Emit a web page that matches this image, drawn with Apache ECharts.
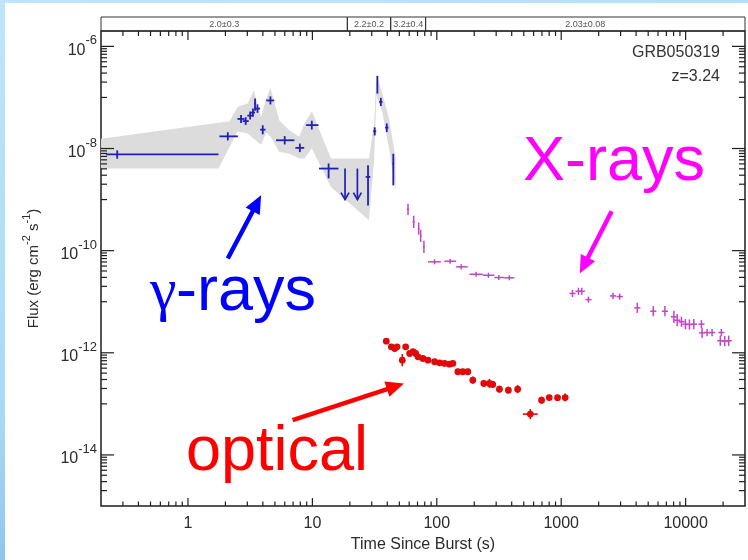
<!DOCTYPE html>
<html>
<head>
<meta charset="utf-8">
<script src="https://cdn.jsdelivr.net/npm/echarts@6/dist/echarts.min.js"></script>
<style>
  html, body { margin: 0; padding: 0; }
  body {
    width: 748px; height: 560px; overflow: hidden; position: relative;
    background: linear-gradient(165deg, #bfe5fb 0%, #a9d9f5 55%, #6aaedc 100%);
  }
  #sheet { position: absolute; left: 5px; top: 3px; width: 743px; height: 557px; background: #ffffff; }
  #chart { position: absolute; left: 0; top: 0; width: 748px; height: 560px; }
</style>
</head>
<body>
<div id="sheet"></div>
<div id="chart"></div>
<script>
// ---------------- axis ranges and tick labels ----------------
const T_MIN = 0.2, T_MAX = 3e4;
const F_MIN = 1e-15, F_MAX = 2e-6;
const xTickValues = [1, 10, 100, 1000, 10000];
const xTickLabels = ['1', '10', '100', '1000', '10000'];
const yTickValues = [1e-6, 1e-8, 1e-10, 1e-12, 1e-14];
const yTickExps   = ['-6', '-8', '-10', '-12', '-14'];

// ---------------- photon index strip ----------------
const stripEdges  = [0.2, 19.1, 42.6, 81.3, 3e4];
const stripLabels = ['2.0\u00b10.3', '2.2\u00b10.2', '3.2\u00b10.4', '2.03\u00b10.08'];

// ---------------- BAT (gamma-ray) light curve ----------------
const batT   = [0.27, 2.09, 2.67, 2.91, 3.16, 3.33, 3.46, 3.62, 3.99, 4.60, 5.99, 7.93, 9.89, 13.5, 28.0, 31.7, 33.3, 35.5, 39.6, 44.7];
const batTLo = [0.22, 1.79, 2.50, 2.75, 3.00, 3.20, 3.42, 3.45, 3.80, 4.26, 5.10, 7.30, 8.90, 11.3, 26.8, 30.8, 33.0, 34.4, 38.4, 44.0];
const batTHi = [1.76, 2.52, 2.85, 3.08, 3.33, 3.46, 3.50, 3.80, 4.20, 4.94, 7.17, 8.60, 11.2, 16.2, 29.2, 32.6, 33.6, 36.6, 40.8, 45.4];
const batF   = [7.7e-9, 1.73e-8, 3.79e-8, 3.44e-8, 4.41e-8, 5.05e-8, 7.57e-8, 6.04e-8, 2.34e-8, 8.73e-8, 1.45e-8, 1.03e-8, 2.87e-8, 4.05e-9, 2.78e-9, 2.17e-8, 1.78e-7, 8.17e-8, 2.56e-8, 5.06e-9];
const batFLo = [6.3e-9, 1.44e-8, 3.15e-8, 2.9e-8, 3.7e-8, 4.2e-8, 5.5e-8, 5.0e-8, 1.9e-8, 7.3e-8, 1.2e-8, 8.5e-9, 2.35e-8, 2.6e-9, 7.7e-10, 1.8e-8, 1.19e-7, 6.8e-8, 2.1e-8, 1.9e-9];
const batFHi = [9.2e-9, 2.08e-8, 4.55e-8, 4.1e-8, 5.3e-8, 6.1e-8, 9.5e-8, 7.3e-8, 2.85e-8, 1.05e-7, 1.75e-8, 1.25e-8, 3.5e-8, 5.1e-9, 4.7e-9, 2.6e-8, 2.64e-7, 9.8e-8, 3.1e-8, 7.9e-9];
// BAT upper limits (flux limit and arrow tip)
const batUlT   = [18.3, 23.0];
const batUlF   = [4.05e-9, 4.05e-9];
const batUlTip = [1.0e-9, 1.0e-9];

// BAT model envelope
const bandT  = [0.2, 1.76, 2.16, 2.51, 3.02, 3.38, 3.87, 4.25, 4.60, 5.43, 6.53, 7.85, 8.6, 9.9, 14.1, 28.5, 31.4, 32.7, 36.5, 41.3, 46.7];
const bandHi = [1.56e-8, 3.18e-8, 3.40e-8, 6.6e-8, 7.57e-8, 1.38e-7, 4.21e-8, 9.48e-8, 1.53e-7, 3.52e-8, 2.27e-8, 1.69e-8, 3.07e-8, 5.35e-8, 6.34e-9, 6.34e-9, 3.32e-8, 2.92e-7, 1.19e-7, 3.85e-8, 6.34e-9];
const bandLo = [4.05e-9, 4.05e-9, 1.07e-8, 2.17e-8, 1.96e-8, 1.56e-8, 1.19e-8, 2.05e-8, 1.71e-8, 8.57e-9, 7.94e-9, 6.34e-9, 6.34e-9, 9.95e-9, 1.77e-9, 3.94e-10, 6.34e-9, 1.10e-7, 5.2e-8, 9.95e-9, 1.44e-9];

// ---------------- XRT (X-ray) light curve ----------------
const xrtT   = [58.7, 65.2, 71.5, 74.2, 78.8, 96, 128, 157, 207, 260, 315, 383, 1232, 1376, 1463, 1655, 2610, 2949, 4087, 5492, 6814, 8043, 8551, 9255, 9963, 10725, 11633, 13385, 13557, 14870, 16310, 19360, 19000, 20610, 22190];
const xrtTLo = [57.5, 64.0, 70.5, 73.2, 77.5, 85, 115, 143, 183, 234, 290, 349, 1165, 1300, 1383, 1565, 2467, 2787, 3862, 5190, 6439, 7600, 8080, 8746, 9415, 10135, 10993, 12649, 12811, 14052, 15413, 18295, 17955, 19476, 20970];
const xrtTHi = [60.0, 66.5, 72.5, 75.2, 80.0, 108, 143, 177, 234, 290, 349, 420, 1305, 1458, 1550, 1754, 2766, 3126, 4332, 5821, 7223, 8525, 9064, 9810, 10560, 11368, 12331, 14188, 14370, 15762, 17289, 20522, 20140, 21847, 23521];
const xrtF   = [6.46e-10, 3.66e-10, 2.70e-10, 1.95e-10, 1.19e-10, 6.04e-11, 6.21e-11, 4.82e-11, 3.45e-11, 3.30e-11, 2.98e-11, 2.94e-11, 1.45e-11, 1.60e-11, 1.60e-11, 1.10e-11, 1.30e-11, 1.26e-11, 7.60e-12, 6.52e-12, 6.52e-12, 5.06e-12, 4.35e-12, 4.05e-12, 3.63e-12, 3.58e-12, 3.63e-12, 3.63e-12, 2.46e-12, 2.49e-12, 2.49e-12, 2.49e-12, 1.72e-12, 1.69e-12, 1.72e-12];
const xrtFErrDex = [0.11, 0.12, 0.12, 0.12, 0.12, 0.05, 0.05, 0.05, 0.05, 0.05, 0.05, 0.05, 0.07, 0.07, 0.07, 0.06, 0.06, 0.06, 0.1, 0.1, 0.1, 0.12, 0.12, 0.1, 0.1, 0.1, 0.1, 0.08, 0.1, 0.07, 0.07, 0.07, 0.1, 0.1, 0.1];

// ---------------- optical light curve ----------------
const optT = [39.3, 43.1, 45.9, 47.9, 52.8, 56.2, 60.5, 64.4, 67.6, 70.6, 77.4, 84.9, 96.0, 105.3, 115.5, 126.6, 134.6, 147.6, 161.8, 177.5, 194.7, 238.5, 264.8, 281.5, 318.7, 376.1, 446.5, 564.3, 695.3, 801.4, 934, 1076];
const optF = [1.69e-12, 1.31e-12, 1.21e-12, 1.31e-12, 7.16e-13, 1.31e-12, 9.68e-13, 1.05e-12, 9.68e-13, 8.35e-13, 7.73e-13, 7.16e-13, 6.67e-13, 6.37e-13, 6.18e-13, 5.98e-13, 6.18e-13, 4.25e-13, 4.25e-13, 4.25e-13, 2.91e-13, 2.51e-13, 2.51e-13, 2.4e-13, 1.94e-13, 1.85e-13, 1.94e-13, 6.3e-14, 1.18e-13, 1.33e-13, 1.32e-13, 1.33e-13];
const optFErrDex = [0.05, 0.05, 0.05, 0.05, 0.12, 0.05, 0.06, 0.05, 0.06, 0.05, 0.05, 0.05, 0.05, 0.05, 0.05, 0.05, 0.05, 0.06, 0.06, 0.06, 0.07, 0.07, 0.09, 0.07, 0.07, 0.07, 0.08, 0.1, 0.07, 0.05, 0.05, 0.08];
const optTErrDex = [0, 0, 0, 0, 0, 0, 0, 0, 0, 0, 0, 0, 0, 0, 0, 0, 0, 0, 0, 0, 0, 0, 0, 0, 0, 0, 0, 0.06, 0, 0, 0, 0];

// ---------------- annotation arrows: tail (t, F) -> head (t, F) ----------------
const arrowFrom  = [[2.09, 7.0e-11], [2543, 5.9e-10], [6.94, 4.8e-14]];
const arrowTo    = [[3.87, 1.21e-9], [1409, 3.56e-11], [54.5, 2.5e-13]];
const arrowColor = ['#0000ff', '#ff00ff', '#ff0000'];

// ---------------- colours and fonts ----------------
const SANS = '"Liberation Sans", Arial, Helvetica, sans-serif';
const SERIF = '"Liberation Serif", "DejaVu Serif", serif';
const INK = '#2b2b2b';
const BAT_COLOR = '#2020b4';
const XRT_COLOR = '#c445c4';
const OPT_COLOR = '#e00a0a';

// ---------------- helpers ----------------
function near(a, b) { return Math.abs(Math.log10(a) - Math.log10(b)) < 1e-6; }

function errorBarItem(color, width, dotRadius) {
  return function (params, api) {
    const t = api.value(0), tl = api.value(1), th = api.value(2);
    const f = api.value(3), fl = api.value(4), fh = api.value(5);
    const c = api.coord([t, f]);
    const a = api.coord([tl, f]), b = api.coord([th, f]);
    const lo = api.coord([t, fl]), hi = api.coord([t, fh]);
    const st = { stroke: color, lineWidth: width };
    const kids = [];
    if (b[0] - a[0] > 0.5) kids.push({ type: 'line', shape: { x1: a[0], y1: c[1], x2: b[0], y2: c[1] }, style: st });
    kids.push({ type: 'line', shape: { x1: c[0], y1: hi[1], x2: c[0], y2: lo[1] }, style: st });
    if (dotRadius) kids.push({ type: 'circle', shape: { cx: c[0], cy: c[1], r: dotRadius }, style: { fill: color } });
    return { type: 'group', children: kids };
  };
}

function withDex(values, errs) {
  return values.map((v, i) => [v * Math.pow(10, -errs[i]), v * Math.pow(10, errs[i])]);
}

const batRows = batT.map((t, i) => [t, batTLo[i], batTHi[i], batF[i], batFLo[i], batFHi[i]]);
const xrtFRange = withDex(xrtF, xrtFErrDex);
const xrtRows = xrtT.map((t, i) => [t, xrtTLo[i], xrtTHi[i], xrtF[i], xrtFRange[i][0], xrtFRange[i][1]]);
const optFRange = withDex(optF, optFErrDex);
const optTRange = withDex(optT, optTErrDex);
const optRows = optT.map((t, i) => [t, optTRange[i][0], optTRange[i][1], optF[i], optFRange[i][0], optFRange[i][1]]);

// minor tick values of the logarithmic axes
const xMinor = [];
[0.1, 1, 10, 100, 1000, 10000].forEach(d => {
  for (let k = 2; k <= 9; k++) { const v = k * d; if (v > T_MIN * 1.0001 && v < T_MAX * 0.9999) xMinor.push(v); }
});
const yMinor = [];
yTickValues.forEach(v => {
  for (let k = 1; k <= 9; k++) { const m = k * v / 10; if (m > F_MIN * 1.0001 && m < F_MAX) yMinor.push(m); }
});

function renderTicks(params, api) {
  const cs = params.coordSys;
  const L = cs.x, R = cs.x + cs.width, T = cs.y, B = cs.y + cs.height;
  const st = { stroke: '#1e1e1e', lineWidth: 1.2 };
  const kids = [];
  const seg = (x1, y1, x2, y2) => kids.push({ type: 'line', shape: { x1, y1, x2, y2 }, style: st });
  xTickValues.forEach(v => { const x = api.coord([v, F_MIN])[0]; seg(x, B, x, B - 8); seg(x, T, x, T + 9); });
  xMinor.forEach(v => { const x = api.coord([v, F_MIN])[0]; seg(x, B, x, B - 4.5); seg(x, T, x, T + 5); });
  yTickValues.forEach(v => { const y = api.coord([T_MIN, v])[1]; seg(L, y, L + 13, y); seg(R, y, R - 13, y); });
  yMinor.forEach(v => { const y = api.coord([T_MIN, v])[1]; seg(L, y, L + 6, y); seg(R, y, R - 6, y); });
  return { type: 'group', children: kids };
}

function renderBand(params, api) {
  const pts = [];
  bandT.forEach((t, i) => pts.push(api.coord([t, bandHi[i]])));
  for (let i = bandT.length - 1; i >= 0; i--) pts.push(api.coord([bandT[i], bandLo[i]]));
  return { type: 'polygon', shape: { points: pts }, style: { fill: '#dcdcdc' } };
}

function renderUpperLimit(params, api) {
  const t = api.value(0), f = api.value(1), tip = api.value(2);
  const a = api.coord([t, f]), b = api.coord([t, tip]);
  const st = { stroke: BAT_COLOR, lineWidth: 1.7 };
  return { type: 'group', children: [
    { type: 'line', shape: { x1: a[0], y1: a[1], x2: b[0], y2: b[1] }, style: st },
    { type: 'polyline', shape: { points: [[b[0] - 4, b[1] - 7], [b[0], b[1]], [b[0] + 4, b[1] - 7]] }, style: { stroke: BAT_COLOR, lineWidth: 1.7, fill: null } }
  ] };
}

function renderArrow(params, api) {
  const i = params.dataIndex;
  const p0 = api.coord([api.value(0), api.value(1)]);
  const p1 = api.coord([api.value(2), api.value(3)]);
  const dx = p1[0] - p0[0], dy = p1[1] - p0[1];
  const len = Math.sqrt(dx * dx + dy * dy);
  const ux = dx / len, uy = dy / len, nx = -uy, ny = ux;
  const headLen = 18, headHalf = 8;
  const bx = p1[0] - ux * headLen, by = p1[1] - uy * headLen;
  return { type: 'group', children: [
    { type: 'line', shape: { x1: p0[0], y1: p0[1], x2: bx + ux * 2, y2: by + uy * 2 }, style: { stroke: arrowColor[i], lineWidth: 4.5 } },
    { type: 'polygon', shape: { points: [[p1[0], p1[1]], [bx + nx * headHalf, by + ny * headHalf], [bx - nx * headHalf, by - ny * headHalf]] }, style: { fill: arrowColor[i] } }
  ] };
}

function renderStrip(params, api) {
  const i = params.dataIndex;
  const s = api.value(0), e = api.value(1);
  const p0 = api.coord([s, 1]), p1 = api.coord([e, 0]);
  const pc = api.coord([Math.sqrt(s * e), 0.5]);
  return { type: 'group', children: [
    { type: 'rect', shape: { x: p0[0], y: p0[1], width: p1[0] - p0[0], height: p1[1] - p0[1] }, style: { fill: null, stroke: '#333', lineWidth: 1 } },
    { type: 'text', x: pc[0], y: pc[1] + 1, style: { text: stripLabels[i], fill: '#555', font: '9px ' + SANS, align: 'center', verticalAlign: 'middle' } }
  ] };
}

// ---------------- chart ----------------
const chart = echarts.init(document.getElementById('chart'), null, { renderer: 'canvas' });

const option = {
  animation: false,
  backgroundColor: 'transparent',
  grid: [
    { left: 101, right: 3, top: 31, bottom: 54, show: true, borderColor: '#1e1e1e', borderWidth: 1.5, backgroundColor: 'transparent' },
    { left: 101, right: 3, top: 17, height: 14, show: false }
  ],
  xAxis: [
    {
      type: 'log', gridIndex: 0, min: T_MIN, max: T_MAX,
      axisLine: { show: false }, axisTick: { show: false }, splitLine: { show: false },
      axisLabel: {
        margin: 10, fontSize: 16, color: INK, fontFamily: SANS,
        formatter: v => { const k = xTickValues.findIndex(x => near(x, v)); return k < 0 ? '' : xTickLabels[k]; }
      },
      name: 'Time Since Burst (s)', nameLocation: 'middle', nameGap: 25,
      nameTextStyle: { fontSize: 16, color: INK, fontFamily: SANS, verticalAlign: 'top' }
    },
    { type: 'log', gridIndex: 1, min: T_MIN, max: T_MAX, show: false }
  ],
  yAxis: [
    {
      type: 'log', gridIndex: 0, min: F_MIN, max: F_MAX,
      axisLine: { show: false }, axisTick: { show: false }, splitLine: { show: false },
      axisLabel: {
        margin: 4, color: INK, fontFamily: SANS,
        formatter: v => { const k = yTickValues.findIndex(x => near(x, v)); return k < 0 ? '' : '{b|10}{s|' + yTickExps[k] + '}'; },
        rich: {
          b: { fontSize: 16, fontFamily: SANS, color: INK, lineHeight: 24, verticalAlign: 'bottom' },
          s: { fontSize: 13, fontFamily: SANS, color: INK, lineHeight: 12, verticalAlign: 'top' }
        }
      },
      name: '{n|Flux (erg cm}{s|-2}{n| s}{s|-1}{n|)}', nameLocation: 'middle', nameRotate: 90, nameGap: 60,
      nameTextStyle: {
        rich: {
          n: { fontSize: 15, fontFamily: SANS, color: INK, lineHeight: 20, verticalAlign: 'bottom' },
          s: { fontSize: 11, fontFamily: SANS, color: INK, lineHeight: 10, verticalAlign: 'top' }
        }
      }
    },
    { type: 'value', gridIndex: 1, min: 0, max: 1, show: false }
  ],
  series: [
    { type: 'custom', name: 'envelope', xAxisIndex: 0, yAxisIndex: 0, silent: true, z: 1,
      data: [[1, 1e-8]], encode: { x: 0, y: 1 }, renderItem: renderBand },
    { type: 'custom', name: 'ticks', xAxisIndex: 0, yAxisIndex: 0, silent: true, z: 5,
      data: [[1, 1e-8]], encode: { x: 0, y: 1 }, renderItem: renderTicks },
    { type: 'custom', name: 'BAT', xAxisIndex: 0, yAxisIndex: 0, z: 3,
      data: batRows, encode: { x: 0, y: 3 }, renderItem: errorBarItem(BAT_COLOR, 1.8, 0) },
    { type: 'custom', name: 'BAT limits', xAxisIndex: 0, yAxisIndex: 0, z: 3,
      data: batUlT.map((t, i) => [t, batUlF[i], batUlTip[i]]), encode: { x: 0, y: 1 }, renderItem: renderUpperLimit },
    { type: 'custom', name: 'XRT', xAxisIndex: 0, yAxisIndex: 0, z: 3,
      data: xrtRows, encode: { x: 0, y: 3 }, renderItem: errorBarItem(XRT_COLOR, 1.5, 0) },
    { type: 'custom', name: 'Optical', xAxisIndex: 0, yAxisIndex: 0, z: 3,
      data: optRows, encode: { x: 0, y: 3 }, renderItem: errorBarItem(OPT_COLOR, 1.6, 3.4) },
    { type: 'custom', name: 'arrows', xAxisIndex: 0, yAxisIndex: 0, z: 4, silent: true,
      data: arrowFrom.map((p, i) => [p[0], p[1], arrowTo[i][0], arrowTo[i][1]]), encode: { x: 0, y: 1 }, renderItem: renderArrow },
    { type: 'custom', name: 'photon index', xAxisIndex: 1, yAxisIndex: 1, silent: true,
      data: stripLabels.map((s, i) => [stripEdges[i], stripEdges[i + 1], 0, 1]), encode: { x: [0, 1], y: [2, 3] }, renderItem: renderStrip }
  ],
  graphic: [
    { type: 'text', x: 720, y: 53, style: { text: 'GRB050319', font: '16px ' + SANS, fill: '#333', align: 'right', verticalAlign: 'middle' } },
    { type: 'text', x: 720, y: 77, style: { text: 'z=3.24', font: '16px ' + SANS, fill: '#333', align: 'right', verticalAlign: 'middle' } },
    { type: 'text', x: 150, y: 293, style: { text: '\u03b3', font: '60px ' + SERIF, fill: '#0000ff', align: 'left', verticalAlign: 'middle' } },
    { type: 'text', x: 176, y: 293, style: { text: '-rays', font: '63px ' + SANS, fill: '#0000ff', align: 'left', verticalAlign: 'middle' } },
    { type: 'text', x: 523, y: 163, style: { text: 'X-rays', font: '63px ' + SANS, fill: '#ff00ff', align: 'left', verticalAlign: 'middle' } },
    { type: 'text', x: 186, y: 453, style: { text: 'optical', font: '63px ' + SANS, fill: '#ff0000', align: 'left', verticalAlign: 'middle' } }
  ]
};

chart.setOption(option);
</script>
</body>
</html>
